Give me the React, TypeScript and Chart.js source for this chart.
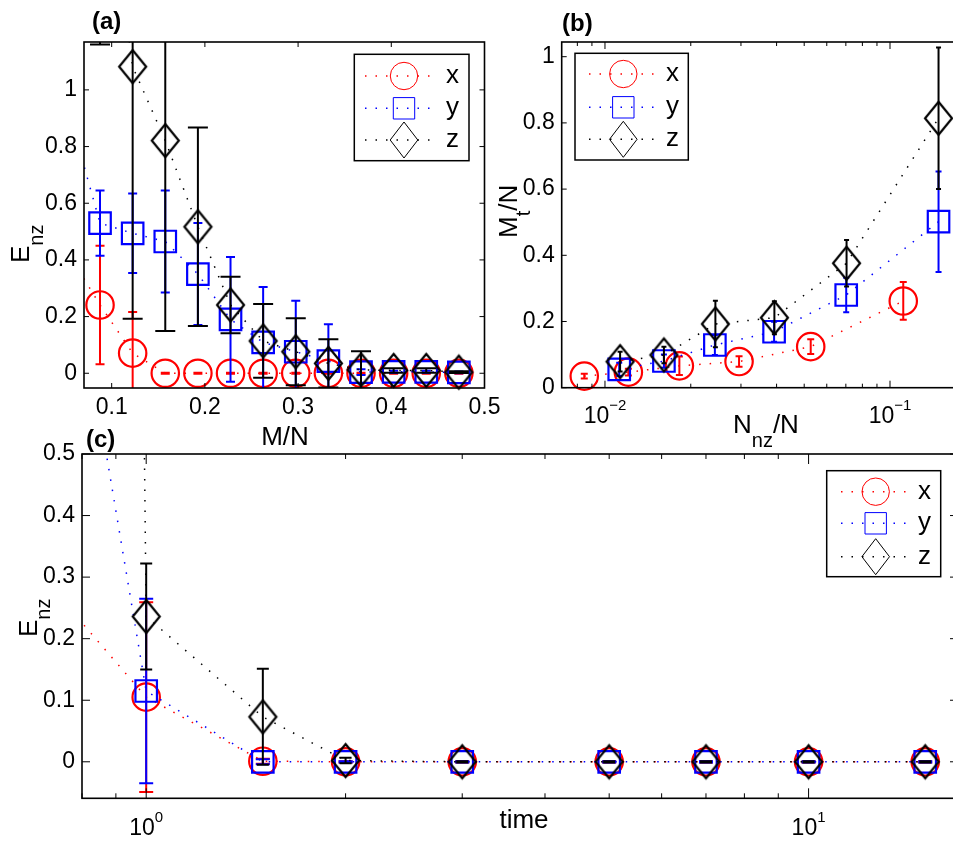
import React, { useEffect, useRef } from 'react';
import { Chart, registerables } from 'chart.js';

Chart.register(...registerables);

// ---------------- Panel (a): E_nz versus M/N ----------------
const aMN = [0.0525, 0.0875, 0.1225, 0.1575, 0.1925, 0.2275, 0.2625, 0.2975, 0.3325, 0.3675, 0.4025, 0.4375, 0.4725];
const aX = [0.43, 0.241, 0.071, 0, 0, 0, 0, 0, 0, 0, 0, 0, 0];
const aXErr = [0.2, 0.209, 0.145, 0.002, 0.002, 0.002, 0.002, 0.002, 0.002, 0.002, 0.002, 0.002, 0.002];
const aY = [0.94, 0.53, 0.494, 0.465, 0.35, 0.19, 0.109, 0.076, 0.043, 0.004, 0.005, 0.005, 0.003];
const aYErr = [0.2, 0.115, 0.14, 0.18, 0.18, 0.22, 0.195, 0.18, 0.13, 0.01, 0.004, 0.004, 0.003];
const aZ = [2.6, 1.95, 1.082, 0.821, 0.517, 0.241, 0.114, 0.076, 0.035, 0.012, 0.01, 0.01, 0.004];
const aZErr = [0.5, 0.79, 0.89, 0.672, 0.35, 0.1, 0.13, 0.118, 0.085, 0.066, 0.008, 0.008, 0.003];
const aXTicks = [0.1, 0.2, 0.3, 0.4, 0.5];
const aYTicks = [0, 0.2, 0.4, 0.6, 0.8, 1];

// ---------------- Panel (b): M_t/N versus N_nz/N ----------------
const bXx = [0.00846, 0.01208, 0.01824, 0.02954, 0.0527, 0.1113];
const bXy = [0.035, 0.047, 0.066, 0.079, 0.124, 0.262];
const bXErr = [0.007, 0.01, 0.028, 0.016, 0.022, 0.057];
const bYx = [0.01122, 0.0161, 0.0243, 0.0392, 0.0702, 0.148];
const bYy = [0.0555, 0.0806, 0.129, 0.169, 0.28, 0.5015];
const bYErr = [0.02, 0.02, 0.03, 0.03, 0.052, 0.152];
const bZx = [0.0113, 0.0161, 0.0244, 0.0393, 0.0704, 0.148];
const bZy = [0.0786, 0.0988, 0.1925, 0.2115, 0.376, 0.814];
const bZErr = [0.03, 0.025, 0.07, 0.05, 0.07, 0.214];
const bXTicks = [0.01, 0.1];
const bXTickExp = ['\u22122', '\u22121'];
const bXMinor = [0.008, 0.009, 0.02, 0.03, 0.04, 0.05, 0.06, 0.07, 0.08, 0.09];
const bYTicks = [0, 0.2, 0.4, 0.6, 0.8, 1];

// ---------------- Panel (c): E_nz versus time ----------------
const cTime = [0.5, 1, 1.5, 2, 3, 5, 7, 10, 15];
const cX = [0.48, 0.105, 0.001, 0, 0, 0, 0, 0, 0];
const cXErr = [0.1, 0.154, 0.004, 0.001, 0.001, 0.001, 0.001, 0.001, 0.001];
const cY = [2.04, 0.115, 0.0, 0, 0, 0, 0, 0, 0];
const cYErr = [0.2, 0.15, 0.004, 0.001, 0.001, 0.001, 0.001, 0.001, 0.001];
const cZ = [30, 0.236, 0.073, 0.002, 0, 0, 0, 0, 0];
const cZErr = [3, 0.086, 0.078, 0.0045, 0.001, 0.001, 0.001, 0.001, 0.001];
const cXTicks = [1, 10];
const cXTickExp = ['0', '1'];
const cXMinor = [0.8, 0.9, 2, 3, 4, 5, 6, 7, 8, 9];
const cYTicks = [0, 0.1, 0.2, 0.3, 0.4, 0.5];

const SERIES = ['x', 'y', 'z'];
const COLORS = ['#ff0000', '#0000ff', '#000000'];
const FONT = '"Liberation Sans", Arial, Helvetica, sans-serif';

type Part = { t: string; size: number; bold?: boolean; dy?: number };
type TextItem = { parts: Part[]; x: number; y: number; align?: 'left' | 'center'; rot?: boolean };

type Panel = {
  canvas: { x: number; y: number; w: number; h: number };
  area: { left: number; top: number; right: number; bottom: number };
  xType: 'linear' | 'logarithmic';
  xMin: number; xMax: number; yMin: number; yMax: number;
  xTicks: number[]; xExp?: string[]; xMinor?: number[]; yTicks: number[];
  xLabelBase?: number;
  sets: { xs: number[]; ys: number[]; errs: number[] }[];
  caps: number[];
  tick: { x: number; xMinor: number; y: number };
  texts: TextItem[];
  legend: { box: number[]; rows: number[]; x1: number; x2: number; mx: number; tx: number };
};

const PANELS: Panel[] = [
  {
    canvas: { x: 0, y: 0, w: 500, h: 455 },
    area: { left: 84, top: 42, right: 484.5, bottom: 388 },
    xType: 'linear', xMin: 0.0703, xMax: 0.5, yMin: -0.052, yMax: 1.169,
    xTicks: aXTicks, yTicks: aYTicks,
    sets: [
      { xs: aMN, ys: aX, errs: aXErr },
      { xs: aMN, ys: aY, errs: aYErr },
      { xs: aMN, ys: aZ, errs: aZErr },
    ],
    caps: [4.5, 4.5, 10],
    tick: { x: 5, xMinor: 0, y: 5 },
    texts: [
      { parts: [{ t: '(a)', size: 24, bold: true }], x: 92, y: 29 },
      { parts: [{ t: 'M/N', size: 26 }], x: 285, y: 445, align: 'center' },
      { parts: [{ t: 'E', size: 26 }, { t: 'nz', size: 20, dy: 14 }], x: 29, y: 263, rot: true },
    ],
    legend: { box: [354.3, 54.3, 469, 160.7], rows: [76, 108.3, 140], x1: 365, x2: 434, mx: 404, tx: 446 },
  },
  {
    canvas: { x: 490, y: 0, w: 475, h: 455 },
    area: { left: 561.7, top: 42, right: 958, bottom: 387.7 },
    xType: 'logarithmic', xMin: 0.00705, xMax: 0.1732, yMin: 0, yMax: 1.0444,
    xTicks: bXTicks, xExp: bXTickExp, xMinor: bXMinor, yTicks: bYTicks, xLabelBase: 422.5,
    sets: [
      { xs: bXx, ys: bXy, errs: bXErr },
      { xs: bYx, ys: bYy, errs: bYErr },
      { xs: bZx, ys: bZy, errs: bZErr },
    ],
    caps: [3.5, 3, 2.5],
    tick: { x: 7, xMinor: 4, y: 5 },
    texts: [
      { parts: [{ t: '(b)', size: 24, bold: true }], x: 562, y: 31 },
      { parts: [{ t: 'N', size: 26 }, { t: 'nz', size: 20, dy: 14 }, { t: '/N', size: 26 }], x: 733, y: 433 },
      { parts: [{ t: 'M', size: 26 }, { t: 't', size: 20, dy: 13 }, { t: '/N', size: 26 }], x: 517, y: 238, rot: true },
    ],
    legend: { box: [575, 53.3, 688.3, 160], rows: [74, 107.3, 139.3], x1: 589, x2: 654, mx: 623.3, tx: 666 },
  },
  {
    canvas: { x: 0, y: 415, w: 965, h: 426 },
    area: { left: 82, top: 454, right: 958, bottom: 798.3 },
    xType: 'logarithmic', xMin: 0.8, xMax: 16.81, yMin: -0.0593, yMax: 0.5,
    xTicks: cXTicks, xExp: cXTickExp, xMinor: cXMinor, yTicks: cYTicks, xLabelBase: 835,
    sets: [
      { xs: cTime, ys: cX, errs: cXErr },
      { xs: cTime, ys: cY, errs: cYErr },
      { xs: cTime, ys: cZ, errs: cZErr },
    ],
    caps: [7, 7, 6],
    tick: { x: 10, xMinor: 5, y: 8 },
    texts: [
      { parts: [{ t: '(c)', size: 24, bold: true }], x: 86, y: 447 },
      { parts: [{ t: 'time', size: 26 }], x: 524, y: 828, align: 'center' },
      { parts: [{ t: 'E', size: 26 }, { t: 'nz', size: 20, dy: 13 }], x: 37, y: 637, rot: true },
    ],
    legend: { box: [826.7, 470.7, 940.7, 576.7], rows: [491.7, 523.3, 556.7], x1: 841, x2: 906, mx: 875.7, tx: 918 },
  },
];

function fontOf(p: Part) {
  return `${p.bold ? 'bold ' : ''}${p.size}px ${FONT}`;
}

function drawRich(ctx: CanvasRenderingContext2D, item: TextItem, x: number, y: number) {
  ctx.save();
  ctx.translate(x, y);
  if (item.rot) ctx.rotate(-Math.PI / 2);
  ctx.fillStyle = '#000';
  ctx.textBaseline = 'alphabetic';
  ctx.textAlign = 'left';
  const widths = item.parts.map((p) => {
    ctx.font = fontOf(p);
    return ctx.measureText(p.t).width;
  });
  const total = widths.reduce((s, w) => s + w, 0);
  let cx = item.align === 'center' ? -total / 2 : 0;
  item.parts.forEach((p, i) => {
    ctx.font = fontOf(p);
    ctx.fillText(p.t, cx, p.dy || 0);
    cx += widths[i];
  });
  ctx.restore();
}

function makeDiamond(w: number, h: number, lw: number, color: string) {
  const c = document.createElement('canvas');
  c.width = Math.round(w + 2 * lw + 2);
  c.height = Math.round(h + 2 * lw + 2);
  const g = c.getContext('2d')!;
  const cx = c.width / 2;
  const cy = c.height / 2;
  g.strokeStyle = color;
  g.lineWidth = lw;
  g.beginPath();
  g.moveTo(cx, cy - h / 2);
  g.lineTo(cx + w / 2, cy);
  g.lineTo(cx, cy + h / 2);
  g.lineTo(cx - w / 2, cy);
  g.closePath();
  g.stroke();
  return c;
}

function drawMarker(ctx: CanvasRenderingContext2D, i: number, x: number, y: number) {
  ctx.beginPath();
  if (i === 0) ctx.arc(x, y, 13.7, 0, Math.PI * 2);
  else if (i === 1) ctx.rect(x - 10.7, y - 10.7, 21.4, 21.4);
  else {
    ctx.moveTo(x, y - 18);
    ctx.lineTo(x + 13.8, y);
    ctx.lineTo(x, y + 18);
    ctx.lineTo(x - 13.8, y);
    ctx.closePath();
  }
  ctx.stroke();
}

function buildChart(canvas: HTMLCanvasElement, p: Panel) {
  const ox = p.canvas.x;
  const oy = p.canvas.y;
  const Y_W = 60;
  const X_H = 40;
  const diamond = makeDiamond(27, 33, 2.2, COLORS[2]);

  const datasets = p.sets.map((s, i) => ({
    label: SERIES[i],
    data: s.xs.map((x, k) => ({ x, y: s.ys[k] })),
    errors: s.errs,
    capHalf: p.caps[i],
    borderColor: COLORS[i],
    backgroundColor: 'transparent',
    borderWidth: 1.5,
    borderDash: [1.5, 9],
    tension: 0,
    fill: false,
    pointStyle: i === 0 ? 'circle' : i === 1 ? 'rect' : diamond,
    pointRadius: i === 0 ? 13.7 : i === 1 ? 15.2 : 17,
    pointHoverRadius: i === 0 ? 13.7 : i === 1 ? 15.2 : 17,
    pointBorderWidth: 2.2,
    pointBorderColor: COLORS[i],
    pointBackgroundColor: 'transparent',
    order: 3 - i,
    clip: { left: 0, top: 0, right: 40, bottom: 40 },
  }));

  const errorBars = {
    id: 'errorBars',
    afterDatasetDraw(chart: any, args: any) {
      const ds: any = chart.data.datasets[args.index];
      if (!ds || !ds.errors) return;
      const { ctx, chartArea: a } = chart;
      const xs = chart.scales.x;
      const ys = chart.scales.y;
      ctx.save();
      ctx.beginPath();
      ctx.rect(a.left, a.top, a.right - a.left, a.bottom - a.top);
      ctx.clip();
      ctx.strokeStyle = ds.borderColor;
      ctx.lineWidth = 2;
      ctx.setLineDash([]);
      const c = ds.capHalf;
      ds.data.forEach((pt: any, k: number) => {
        const e = ds.errors[k];
        const px = xs.getPixelForValue(pt.x);
        const y1 = ys.getPixelForValue(pt.y + e);
        const y2 = ys.getPixelForValue(pt.y - e);
        ctx.beginPath();
        ctx.moveTo(px, y1);
        ctx.lineTo(px, y2);
        ctx.moveTo(px - c, y1);
        ctx.lineTo(px + c, y1);
        ctx.moveTo(px - c, y2);
        ctx.lineTo(px + c, y2);
        ctx.stroke();
      });
      ctx.restore();
    },
  };

  const frame = {
    id: 'frame',
    afterDatasetsDraw(chart: any) {
      const { ctx, chartArea: a } = chart;
      const xs = chart.scales.x;
      const ys = chart.scales.y;
      ctx.save();
      ctx.strokeStyle = '#000';
      ctx.setLineDash([]);
      ctx.lineWidth = 1;
      const seg = (x1: number, y1: number, x2: number, y2: number) => {
        ctx.beginPath();
        ctx.moveTo(x1, y1);
        ctx.lineTo(x2, y2);
        ctx.stroke();
      };
      p.xTicks.forEach((v) => {
        const px = xs.getPixelForValue(v);
        seg(px, a.bottom, px, a.bottom - p.tick.x);
        seg(px, a.top, px, a.top + p.tick.x);
      });
      (p.xMinor || []).forEach((v) => {
        const px = xs.getPixelForValue(v);
        seg(px, a.bottom, px, a.bottom - p.tick.xMinor);
        seg(px, a.top, px, a.top + p.tick.xMinor);
      });
      p.yTicks.forEach((v) => {
        const py = ys.getPixelForValue(v);
        seg(a.left, py, a.left + p.tick.y, py);
        seg(a.right, py, a.right - p.tick.y, py);
      });
      ctx.lineWidth = 1.6;
      ctx.strokeRect(a.left, a.top, a.right - a.left, a.bottom - a.top);
      ctx.restore();
    },
  };

  const overlay = {
    id: 'overlay',
    afterDraw(chart: any) {
      const ctx: CanvasRenderingContext2D = chart.ctx;
      p.texts.forEach((t) => drawRich(ctx, t, t.x - ox, t.y - oy));
      if (p.xExp) {
        const xs = chart.scales.x;
        p.xTicks.forEach((v, i) => {
          const px = xs.getPixelForValue(v);
          drawRich(
            ctx,
            { parts: [{ t: '10', size: 23 }, { t: p.xExp![i], size: 15, dy: -13 }], x: 0, y: 0, align: 'center' },
            px,
            (p.xLabelBase as number) - oy,
          );
        });
      }
      const L = p.legend;
      ctx.save();
      ctx.fillStyle = '#fff';
      ctx.fillRect(L.box[0] - ox, L.box[1] - oy, L.box[2] - L.box[0], L.box[3] - L.box[1]);
      ctx.strokeStyle = '#000';
      ctx.lineWidth = 1.5;
      ctx.strokeRect(L.box[0] - ox, L.box[1] - oy, L.box[2] - L.box[0], L.box[3] - L.box[1]);
      L.rows.forEach((ry, i) => {
        const y = ry - oy;
        ctx.strokeStyle = COLORS[i];
        ctx.lineWidth = 1.5;
        ctx.setLineDash([1.5, 9]);
        ctx.beginPath();
        ctx.moveTo(L.x1 - ox, y);
        ctx.lineTo(L.x2 - ox, y);
        ctx.stroke();
        ctx.setLineDash([]);
        ctx.lineWidth = 1;
        drawMarker(ctx, i, L.mx - ox, y);
        ctx.fillStyle = '#000';
        ctx.font = `26px ${FONT}`;
        ctx.textBaseline = 'alphabetic';
        ctx.textAlign = 'left';
        ctx.fillText(SERIES[i], L.tx - ox, y + 7);
      });
      ctx.restore();
    },
  };

  const tickFont = { family: FONT, size: 23, lineHeight: 1.2 };

  return new Chart(canvas, {
    type: 'line',
    data: { datasets: datasets as any },
    options: {
      responsive: false,
      animation: false,
      events: [],
      layout: {
        autoPadding: false,
        padding: {
          left: p.area.left - ox - Y_W,
          top: p.area.top - oy,
          right: ox + p.canvas.w - p.area.right,
          bottom: oy + p.canvas.h - p.area.bottom - X_H,
        },
      },
      plugins: { legend: { display: false }, tooltip: { enabled: false } },
      scales: {
        x: {
          type: p.xType,
          min: p.xMin,
          max: p.xMax,
          bounds: 'data',
          grid: { display: false, drawTicks: false },
          border: { display: false },
          ticks: {
            display: p.xType === 'linear',
            autoSkip: false,
            maxRotation: 0,
            minRotation: 0,
            padding: 6,
            color: '#000',
            font: tickFont,
            callback: (v: any) => String(v),
          },
          afterBuildTicks: (s: any) => {
            s.ticks = p.xTicks.map((v) => ({ value: v }));
          },
          afterFit: (s: any) => {
            s.height = X_H;
            s.paddingLeft = 0;
            s.paddingRight = 0;
          },
        } as any,
        y: {
          type: 'linear',
          min: p.yMin,
          max: p.yMax,
          bounds: 'data',
          grid: { display: false, drawTicks: false },
          border: { display: false },
          ticks: {
            autoSkip: false,
            padding: 7,
            color: '#000',
            font: tickFont,
            callback: (v: any) => String(v),
          },
          afterBuildTicks: (s: any) => {
            s.ticks = p.yTicks.map((v) => ({ value: v }));
          },
          afterFit: (s: any) => {
            s.width = Y_W;
            s.paddingTop = 0;
            s.paddingBottom = 0;
          },
        } as any,
      },
    } as any,
    plugins: [errorBars, frame, overlay],
  });
}

export default function App() {
  const refs = useRef<(HTMLCanvasElement | null)[]>([]);

  useEffect(() => {
    const charts = PANELS.map((p, i) => buildChart(refs.current[i] as HTMLCanvasElement, p));
    return () => charts.forEach((c) => c.destroy());
  }, []);

  return (
    <div style={{ position: 'absolute', left: 0, top: 0, width: 953, height: 841, background: '#fff', overflow: 'hidden' }}>
      {PANELS.map((p, i) => (
        <canvas
          key={i}
          ref={(el) => {
            refs.current[i] = el;
          }}
          width={p.canvas.w}
          height={p.canvas.h}
          style={{ position: 'absolute', left: p.canvas.x, top: p.canvas.y, width: p.canvas.w, height: p.canvas.h }}
        />
      ))}
    </div>
  );
}
